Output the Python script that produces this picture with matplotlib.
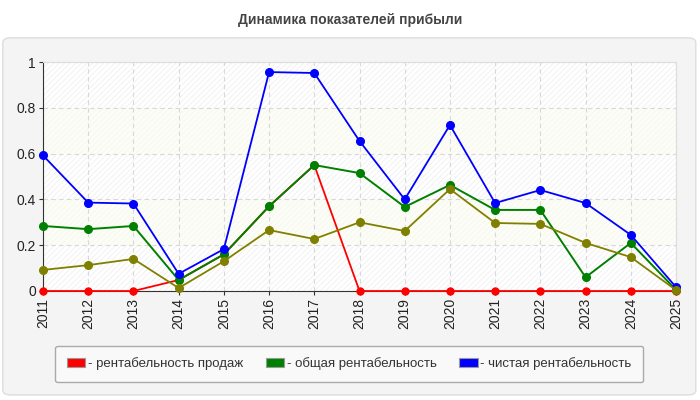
import numpy as np
import matplotlib
matplotlib.use('Agg')
from matplotlib import pyplot as plt
from matplotlib.patches import FancyBboxPatch, Patch

plt.rcParams['font.family'] = ['Liberation Sans', 'DejaVu Sans']
plt.rcParams['hatch.linewidth'] = 0.6

years = list(range(2011, 2026))
sales = [0, 0, 0, 0.048, 0.16, 0.37, 0.55, 0, 0, 0, 0, 0, 0, 0, 0]
total = [0.284, 0.27, 0.284, 0.048, 0.16, 0.37, 0.55, 0.515, 0.367, 0.463, 0.354, 0.354, 0.06, 0.21, 0.005]
net = [0.592, 0.386, 0.382, 0.075, 0.183, 0.956, 0.952, 0.655, 0.40, 0.725, 0.384, 0.441, 0.384, 0.245, 0.017]
other = [0.092, 0.113, 0.14, 0.013, 0.13, 0.266, 0.227, 0.30, 0.262, 0.445, 0.297, 0.293, 0.21, 0.148, 0.004]

legend_labels = ['- рентабельность продаж', '- общая рентабельность', '- чистая рентабельность']
colors = ['#ff0000', '#008000', '#0000ff']
olive = '#808000'

fig = plt.figure(figsize=(7, 4), dpi=100)
fig.patch.set_facecolor('white')

# outer panel
panel = FancyBboxPatch((0.004, 0.0125), 0.99, 0.893, boxstyle='round,pad=0,rounding_size=0.012',
                       transform=fig.transFigure, facecolor='#f4f4f4', edgecolor='#dddddd', lw=1,
                       zorder=-5)
fig.patches.append(panel)

fig.text(0.5, 0.95, 'Динамика показателей прибыли', ha='center', va='center',
         fontsize=10, fontweight='bold', color='#444444')

ax = fig.add_axes([43 / 700, 1 - 291 / 400, 633 / 700, 229 / 400])
ax.set_facecolor('white')

# striped background bands
for i, lo in enumerate(np.arange(0, 1, 0.2)):
    if i % 2 == 0:
        ax.axhspan(lo, lo + 0.2, facecolor='white', edgecolor='#f0f0f0', hatch='//////', lw=0, zorder=0)
    else:
        ax.axhspan(lo, lo + 0.2, facecolor='#fcfdf6', edgecolor='#f6f7ee', hatch='//////', lw=0, zorder=0)

ax.grid(True, color='#d8d8d8', linestyle=(0, (4, 3)), lw=0.8, zorder=1)

ax.plot(years, sales, color=colors[0], lw=1.3, marker='o', ms=5, zorder=3)
ax.plot(years, total, color=colors[1], lw=1.4, marker='o', ms=5.5, zorder=4)
ax.plot(years, net, color=colors[2], lw=1.3, marker='o', ms=5.5, zorder=5)
ax.plot(years, other, color=olive, lw=1.3, marker='o', ms=5.5, zorder=6)

ax.set_xlim(2011, 2025)
ax.set_ylim(0, 1)
ax.set_xticks(years)
ax.set_xticklabels([str(y) for y in years], rotation=90, fontsize=10, color='#222222')
ax.set_yticks([0, 0.2, 0.4, 0.6, 0.8, 1])
ax.set_yticklabels(['0', '0.2', '0.4', '0.6', '0.8', '1'], fontsize=10, color='#222222')
ax.tick_params(length=3, color='#333333', pad=2)
for s in ['left', 'bottom']:
    ax.spines[s].set_color('#333333')
for s in ['top', 'right']:
    ax.spines[s].set_color('#dddddd')
for line in ax.lines:
    line.set_clip_on(False)

handles = [Patch(facecolor=c, edgecolor='#999999', lw=0.8) for c in colors]
leg = fig.legend(handles, legend_labels, loc='center', bbox_to_anchor=(0.499, 0.09), ncol=3,
                 fontsize=9.5, frameon=True, fancybox=True, edgecolor='#aaaaaa',
                 facecolor='#f9f9f9', framealpha=1, handlelength=1.4, handleheight=0.7,
                 handletextpad=0.2, columnspacing=1.7, borderpad=0.9)
for t in leg.get_texts():
    t.set_color('#333333')

fig.savefig('out.png', dpi=100)
